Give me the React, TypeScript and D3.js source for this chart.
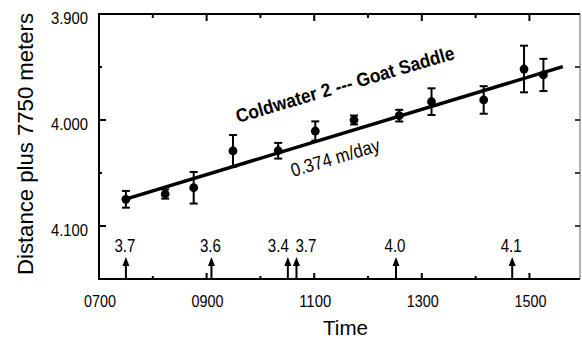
import React from "react";
import * as d3 from "d3";

// ---- data ----
const times = [7.5, 8.23, 8.76, 9.49, 10.33, 11.02, 11.74, 12.58, 13.18, 14.15, 14.9, 15.26];
const distances = [4.0748, 4.0698, 4.0639, 4.0292, 4.029, 4.0104, 4.0, 3.9959, 3.9827, 3.9811, 3.9519, 3.9575];
const errors = [0.0079, 0.0044, 0.0149, 0.015, 0.0074, 0.0091, 0.0042, 0.0055, 0.0126, 0.013, 0.022, 0.0152];
const fitTimes = [7.45, 15.62];
const fitValues = [4.0753, 3.9497];
const arrowTimes = [7.5, 9.09, 10.51, 10.67, 12.52, 14.68];
const arrowLabels = ["3.7", "3.6", "3.4", "3.7", "4.0", "4.1"];
const xMajorTicks = [7, 9, 11, 13, 15];
const xMajorLabels = ["0700", "0900", "1100", "1300", "1500"];
const xMinorTicks = [8, 10, 12, 14];
const yMajorTicks = [3.9, 4.0, 4.1];
const yMajorLabels = ["3.900", "4.000", "4.100"];
const yMinorTicks = [3.95, 4.05];
const titleText = "Coldwater 2 --- Goat Saddle";
const rateText = "0.374 m/day";
const yTitle = "Distance plus 7750 meters";
const xTitle = "Time";

const W = 582;
const H = 339;
const L = 99, R = 580, T = 14, B = 279;
const narrow = "'Liberation Sans Narrow', 'Arial Narrow', 'Liberation Sans', Arial, sans-serif";
const sans = "'Liberation Sans', Arial, Helvetica, sans-serif";

export default function App() {
  const x = d3.scaleLinear().domain([7, 15.94]).range([L, R]);
  const y = d3.scaleLinear().domain([3.9, 4.15]).range([T, B]);
  const line = d3.line<number>().x((_, i) => x(fitTimes[i])).y((d) => y(d));
  const angle = (Math.atan2(y(fitValues[1]) - y(fitValues[0]), x(fitTimes[1]) - x(fitTimes[0])) * 180) / Math.PI;

  // label anchoring for close arrows
  const ax = arrowTimes.map((t) => x(t));
  const anchors = ax.map((px, i) => {
    const prevClose = i > 0 && px - ax[i - 1] < 20;
    const nextClose = i < ax.length - 1 && ax[i + 1] - px < 20;
    if (nextClose) return { anchor: "end", dx: 1 };
    if (prevClose) return { anchor: "start", dx: -1 };
    return { anchor: "middle", dx: -1 };
  });

  return (
    <svg width={W} height={H} style={{ position: "absolute", left: 0, top: 0, background: "#fff" }}>
      <rect x={0} y={0} width={W} height={H} fill="#fff" />
      {/* frame */}
      <line x1={L} y1={T} x2={R} y2={T} stroke="#000" strokeWidth={2} />
      <line x1={L} y1={T - 1} x2={L} y2={B + 1} stroke="#000" strokeWidth={2} />
      <line x1={L} y1={B} x2={R} y2={B} stroke="#000" strokeWidth={2} />
      <line x1={R} y1={T} x2={R} y2={B} stroke="#666" strokeWidth={1} />

      {/* y ticks */}
      {yMajorTicks.map((v, i) => (
        <g key={"ym" + i}>
          <line x1={L} x2={L + 7} y1={y(v)} y2={y(v)} stroke="#000" strokeWidth={2} />
          <line x1={R} x2={R - 5} y1={y(v)} y2={y(v)} stroke="#000" strokeWidth={1.5} />
          <text x={88} y={y(v) + 9.5} textAnchor="end" fontFamily={narrow} fontSize={17} textLength={37} lengthAdjust="spacingAndGlyphs">
            {yMajorLabels[i]}
          </text>
        </g>
      ))}
      {yMinorTicks.map((v, i) => (
        <g key={"yn" + i}>
          <line x1={L} x2={L + 3} y1={y(v)} y2={y(v)} stroke="#000" strokeWidth={2} />
          <line x1={R} x2={R - 5} y1={y(v)} y2={y(v)} stroke="#000" strokeWidth={1.5} />
        </g>
      ))}

      {/* x ticks */}
      {xMajorTicks.map((v, i) => (
        <g key={"xm" + i}>
          {i > 0 && <line x1={x(v)} x2={x(v)} y1={B} y2={B - 6} stroke="#000" strokeWidth={2} />}
          {i > 0 && <line x1={x(v)} x2={x(v)} y1={T} y2={T + 7} stroke="#000" strokeWidth={2} />}
          <text x={x(v) + 1} y={306.5} textAnchor="middle" fontFamily={narrow} fontSize={17} textLength={32} lengthAdjust="spacingAndGlyphs">
            {xMajorLabels[i]}
          </text>
        </g>
      ))}
      {xMinorTicks.map((v, i) => (
        <g key={"xn" + i}>
          <line x1={x(v)} x2={x(v)} y1={B} y2={B - 3} stroke="#000" strokeWidth={2} />
          <line x1={x(v)} x2={x(v)} y1={T} y2={T + 4} stroke="#000" strokeWidth={2} />
        </g>
      ))}

      {/* fit line */}
      <path d={line(fitValues) || ""} fill="none" stroke="#000" strokeWidth={3.5} />

      {/* error bars and points */}
      {times.map((t, i) => {
        const cx = x(t);
        const y1 = y(distances[i] - errors[i]);
        const y2 = y(distances[i] + errors[i]);
        return (
          <g key={"p" + i}>
            <line x1={cx} x2={cx} y1={y1} y2={y2} stroke="#000" strokeWidth={2} />
            <line x1={cx - 4} x2={cx + 4} y1={y1} y2={y1} stroke="#000" strokeWidth={2} />
            <line x1={cx - 4} x2={cx + 4} y1={y2} y2={y2} stroke="#000" strokeWidth={2} />
            <circle cx={cx} cy={y(distances[i])} r={4.4} fill="#000" />
          </g>
        );
      })}

      {/* arrows */}
      {arrowTimes.map((t, i) => {
        const px = x(t);
        return (
          <g key={"a" + i}>
            <line x1={px} x2={px} y1={B} y2={262} stroke="#000" strokeWidth={2} />
            <path d={`M${px},257 L${px - 3.5},266 L${px + 3.5},266 Z`} fill="#000" />
            <text x={px + anchors[i].dx} y={251.5} textAnchor={anchors[i].anchor as any} fontFamily={narrow} fontSize={18} textLength={21} lengthAdjust="spacingAndGlyphs">
              {arrowLabels[i]}
            </text>
          </g>
        );
      })}

      {/* annotations */}
      <text transform={`translate(238,123) rotate(${angle + 0.4})`} fontFamily={narrow} fontWeight="bold" fontSize={19} textLength={227} lengthAdjust="spacingAndGlyphs">
        {titleText}
      </text>
      <text transform={`translate(293,177) rotate(${angle + 0.3})`} fontFamily={narrow} fontSize={19} textLength={92} lengthAdjust="spacingAndGlyphs">
        {rateText}
      </text>

      {/* axis titles */}
      <text transform={`translate(33,144) rotate(-90)`} textAnchor="middle" fontFamily={sans} fontSize={22} textLength={262} lengthAdjust="spacingAndGlyphs">
        {yTitle}
      </text>
      <text x={345.5} y={335} textAnchor="middle" fontFamily={sans} fontSize={20} textLength={45} lengthAdjust="spacingAndGlyphs">
        {xTitle}
      </text>
    </svg>
  );
}
